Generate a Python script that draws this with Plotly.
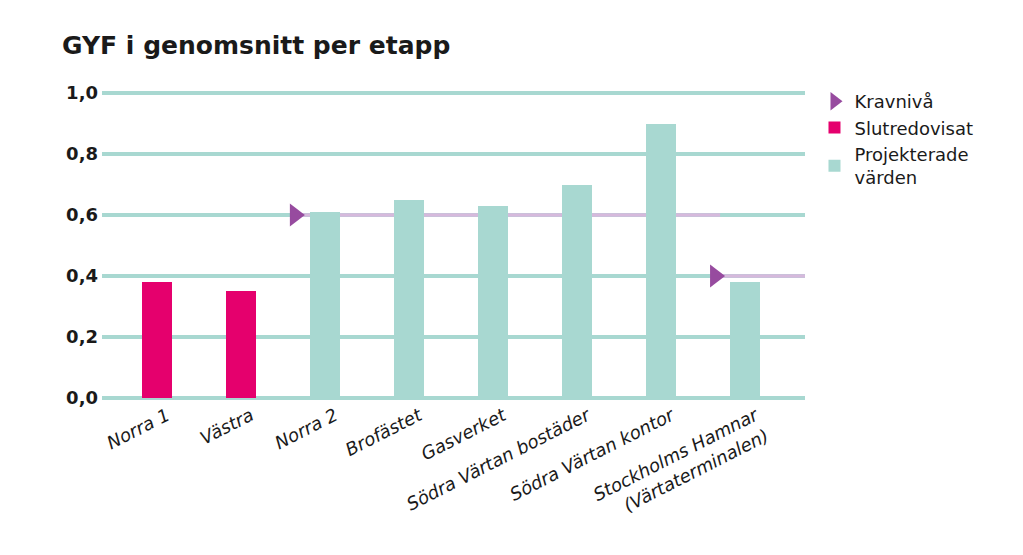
import plotly.graph_objects as go

categories = ["Norra 1", "Västra", "Norra 2", "Brofästet", "Gasverket",
              "Södra Värtan bostäder", "Södra Värtan kontor",
              "Stockholms Hamnar<br>(Värtaterminalen)"]
gyf = [0.38, 0.35, 0.61, 0.65, 0.63, 0.70, 0.90, 0.38]
status = ["Slutredovisat", "Slutredovisat", "Projekterade värden", "Projekterade värden",
          "Projekterade värden", "Projekterade värden", "Projekterade värden", "Projekterade värden"]
kravniva = [None, None, 0.6, 0.6, 0.6, 0.6, 0.6, 0.4]
y_ticks = [0.0, 0.2, 0.4, 0.6, 0.8, 1.0]
y_ticktext = ["0,0", "0,2", "0,4", "0,6", "0,8", "1,0"]

TEAL = "#a8d8d1"
MAGENTA = "#e5006d"
PURPLE = "#974b9f"
LILAC = "#d6b9dc"
FONT = "DejaVu Sans"
TXT = "#1a1a1a"

idx = list(range(len(categories)))
x_min, x_max = -0.655, 7.71

fig = go.Figure()
colors = {"Slutredovisat": MAGENTA, "Projekterade värden": TEAL}
legend_names = {"Slutredovisat": "Slutredovisat", "Projekterade värden": "Projekterade<br>värden"}

# group consecutive equal requirement levels
groups = []
for i, k in enumerate(kravniva):
    if k is None:
        continue
    if groups and groups[-1][1] == i - 1 and groups[-1][2] == k:
        groups[-1][1] = i
    else:
        groups.append([i, i, k])

tri_x = [g[0] - 0.36 for g in groups]
tri_y = [g[2] for g in groups]

fig.add_trace(go.Scatter(x=tri_x, y=tri_y, mode="markers", name="Kravnivå",
                         marker=dict(symbol="triangle-right", size=20, color=PURPLE),
                         cliponaxis=False))

for s in ["Slutredovisat", "Projekterade värden"]:
    xs = [i for i in idx if status[i] == s]
    ys = [gyf[i] for i in idx if status[i] == s]
    fig.add_trace(go.Bar(x=xs, y=ys, name=legend_names[s],
                         marker=dict(color=colors[s], line=dict(width=0)), width=0.36))

for g in groups:
    x0 = g[0] - 0.36
    x1 = g[1] + 0.7 if g[1] < len(categories) - 1 else x_max
    fig.add_shape(type="line", xref="x", yref="y", x0=x0, x1=x1, y0=g[2], y1=g[2],
                  line=dict(color=LILAC, width=3.5), layer="between")

fig.update_layout(
    width=1023, height=555,
    margin=dict(l=94, r=226, t=82, b=162, autoexpand=False),
    plot_bgcolor="white", paper_bgcolor="white",
    font=dict(family=FONT, color=TXT),
    title=dict(text="<b>GYF i genomsnitt per etapp</b>", x=54 / 1023, xanchor="left",
               y=1 - 37 / 555, yanchor="middle", font=dict(size=25, family=FONT, color=TXT)),
    showlegend=True,
    legend=dict(x=1.0135, y=1.0225, xanchor="left", yanchor="top", font=dict(size=18, family=FONT),
                itemwidth=30, tracegroupgap=0, bgcolor="rgba(0,0,0,0)"),
    bargap=0,
)
fig.update_xaxes(range=[x_min, x_max], tickmode="array", tickvals=idx, ticktext=categories,
                 tickangle=-27, showgrid=False, zeroline=False, showline=False, ticks="",
                 ticklabelshift=10,
                 tickfont=dict(size=18, family=FONT, style="italic", color=TXT))
fig.update_yaxes(range=[-0.01, 1.01], tickmode="array", tickvals=y_ticks, ticktext=y_ticktext,
                 showgrid=True, gridcolor=TEAL, gridwidth=3.5, zeroline=False, showline=False,
                 ticks="", ticklabelstandoff=3,
                 tickfont=dict(size=18, family=FONT, weight="bold", color=TXT))

fig.write_html("out.html")
